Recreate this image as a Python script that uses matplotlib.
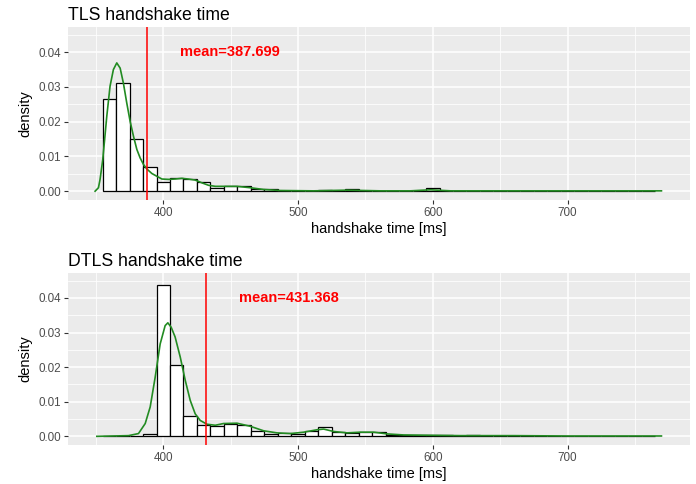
import matplotlib
matplotlib.use("Agg")
import matplotlib.pyplot as plt
import numpy as np

plt.rcParams['font.family'] = ['Liberation Sans', 'DejaVu Sans']

# histogram bins: left edges, width 10 ms
bin_edges = list(range(355, 756, 10))

tls_hist = [0.0266, 0.0311, 0.0150, 0.0069, 0.0027, 0.0037, 0.0034, 0.0026, 0.0010, 0.0016,
            0.0016, 0.0006, 0.0007, 0.0002, 0.0001, 0.0001, 0.0003, 0.0001, 0.0005, 0.0002,
            0.0001, 0.0002, 0.0001, 0.0001, 0.0009, 0.0002, 0.0001, 0.0001, 0.0002, 0.0001,
            0.0001, 0.0000, 0.0001, 0.0001, 0.0001, 0.0000, 0.0001, 0.0001, 0.0000, 0.0001,
            0.0001]

dtls_hist = [0.0000, 0.0000, 0.0000, 0.0008, 0.0436, 0.0205, 0.0059, 0.0033, 0.0029, 0.0037,
             0.0034, 0.0014, 0.0008, 0.0010, 0.0008, 0.0015, 0.0027, 0.0012, 0.0011, 0.0013,
             0.0012, 0.0005, 0.0004, 0.0003, 0.0003, 0.0003, 0.0002, 0.0003, 0.0001, 0.0001,
             0.0002, 0.0002, 0.0001, 0.0001, 0.0002, 0.0002, 0.0001, 0.0002, 0.0001, 0.0001,
             0.0001]

# density curves
tls_dens_x = [349.4, 351.9, 353.1, 355.1, 358.1, 360.5, 363.0, 365.5, 368.0, 370.4,
              372.9, 375.4, 377.9, 380.4, 382.8, 385.3, 387.8, 391.5, 395.2, 399.0,
              403.9, 408.8, 413.8, 418.7, 423.7, 428.7, 433.6, 438.6, 443.5, 448.4,
              454.7, 464.6, 474.4, 486.8, 511.6, 536.4, 561.1, 583.4, 598.3, 613.2,
              650.0, 700.0, 769.7]
tls_dens_y = [0.0000, 0.0010, 0.0034, 0.0091, 0.0216, 0.0302, 0.0350, 0.0369, 0.0354, 0.0311,
              0.0254, 0.0201, 0.0158, 0.0120, 0.0096, 0.0077, 0.0064, 0.0051, 0.0043, 0.0035,
              0.0034, 0.0035, 0.0037, 0.0035, 0.0032, 0.0024, 0.0017, 0.0014, 0.0014, 0.0014,
              0.0014, 0.0010, 0.0005, 0.0002, 0.0001, 0.0003, 0.0001, 0.0001, 0.0004, 0.0001,
              0.0001, 0.0001, 0.0001]

dtls_dens_x = [350.7, 374.2, 381.6, 386.6, 390.3, 394.0, 397.7, 401.4, 403.4, 405.9,
               408.8, 412.6, 416.3, 420.0, 423.7, 427.4, 432.4, 438.6, 444.7, 454.7,
               464.6, 474.5, 484.4, 494.3, 504.2, 514.1, 519.0, 526.5, 536.4, 546.3,
               556.2, 566.1, 578.5, 598.3, 620.6, 660.0, 700.0, 769.7]
dtls_dens_y = [0.0000, 0.0002, 0.0008, 0.0037, 0.0085, 0.0171, 0.0267, 0.0320, 0.0328, 0.0315,
               0.0287, 0.0229, 0.0162, 0.0104, 0.0065, 0.0046, 0.0035, 0.0032, 0.0037, 0.0038,
               0.0029, 0.0016, 0.0010, 0.0008, 0.0012, 0.0019, 0.0021, 0.0014, 0.0010, 0.0012,
               0.0012, 0.0007, 0.0004, 0.0003, 0.0002, 0.0002, 0.0001, 0.0001]

tls_mean = 387.699
dtls_mean = 431.368


def draw_panel(ax, title, hist, dx, dy, mean):
    ax.set_facecolor("#EBEBEB")
    ax.bar(bin_edges, hist, width=10, align="edge", color="white",
           edgecolor="black", linewidth=0.9, zorder=3)
    ax.plot(dx, dy, color="#228B22", linewidth=1.2, zorder=4)
    ax.axvline(mean, color="red", linewidth=1.1, zorder=5)
    ax.text(mean + 62, 0.04, f"mean={mean:.3f}", color="red", fontsize=10.5,
            fontweight="bold", ha="center", va="center", zorder=6)

    ax.set_xlim(329.3, 790.7)
    ax.set_ylim(-0.0025, 0.0472)
    ax.set_xticks([400, 500, 600, 700])
    ax.set_xticks([350, 450, 550, 650, 750], minor=True)
    ax.set_yticks([0.0, 0.01, 0.02, 0.03, 0.04])
    ax.set_yticks([0.005, 0.015, 0.025, 0.035, 0.045], minor=True)
    ax.set_yticklabels(["0.00", "0.01", "0.02", "0.03", "0.04"])
    ax.grid(which="major", color="white", linewidth=1.1, zorder=0)
    ax.grid(which="minor", color="white", linewidth=0.55, zorder=0)
    ax.set_axisbelow(True)
    for s in ax.spines.values():
        s.set_visible(False)
    ax.tick_params(which="major", length=3, width=0.8, color="#333333",
                   labelsize=8.4, labelcolor="#4D4D4D", pad=2)
    ax.tick_params(which="minor", length=0)
    ax.set_xlabel("handshake time [ms]", fontsize=10.5, labelpad=2)
    ax.set_ylabel("density", fontsize=10.5, labelpad=4)
    ax.set_title(title, loc="left", fontsize=12.7, pad=5)


fig = plt.figure(figsize=(6.96, 4.84), dpi=100)
ax1 = fig.add_axes([0.0977, 0.587, 0.8933, 0.357])
ax2 = fig.add_axes([0.0977, 0.0806, 0.8933, 0.3554])

draw_panel(ax1, "TLS handshake time", tls_hist, tls_dens_x, tls_dens_y, tls_mean)
draw_panel(ax2, "DTLS handshake time", dtls_hist, dtls_dens_x, dtls_dens_y, dtls_mean)

fig.savefig("out.png", dpi=100)
